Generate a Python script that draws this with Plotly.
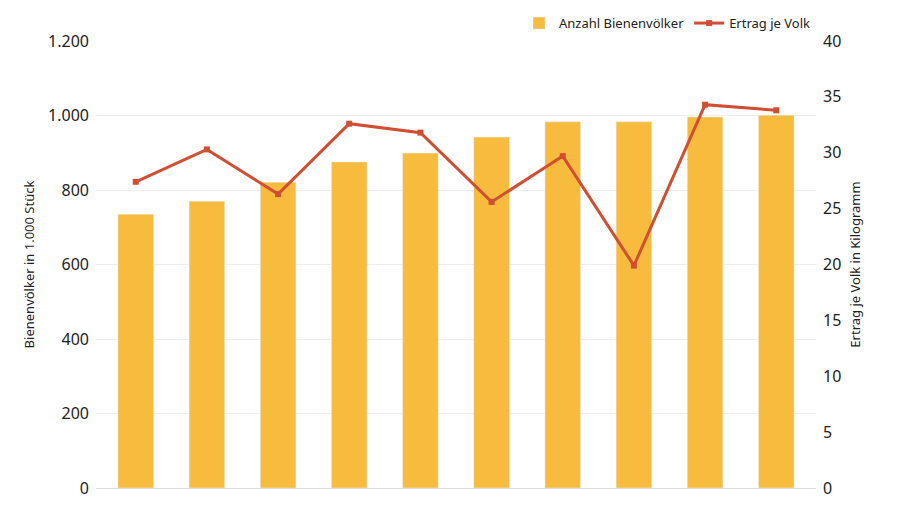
import plotly.graph_objects as go

# Daten
jahre = ["2014", "2015", "2016", "2017", "2018", "2019", "2020", "2021", "2022", "2023"]
voelker = [735, 770, 821, 875, 899, 942, 983, 983, 996, 1001]
ertrag = [27.4, 30.3, 26.3, 32.6, 31.8, 25.6, 29.7, 19.9, 34.3, 33.8]

fig = go.Figure()
fig.add_trace(go.Bar(x=jahre, y=voelker, name="Anzahl Bienenvölker",
                     marker_color="#F7BB3D", width=0.5))
fig.add_trace(go.Scatter(x=jahre, y=ertrag, name="Ertrag je Volk", yaxis="y2",
                         mode="lines+markers",
                         line=dict(color="#D04F33", width=3),
                         marker=dict(symbol="square", size=6, color="#D04F33")))

fig.update_layout(
    width=900, height=506,
    margin=dict(l=88, r=92, t=33, b=26, autoexpand=False),
    plot_bgcolor="white", paper_bgcolor="white",
    separators=",.",
    font=dict(family="Noto Sans", size=16, color="#222"),
    showlegend=True,
    legend=dict(orientation="h", x=1.0, xanchor="right", y=1.04, yanchor="middle",
                font=dict(size=13), bgcolor="rgba(0,0,0,0)"),
    xaxis=dict(showgrid=False, showline=True, linecolor="#ddd", ticks="",
               ticklabelstandoff=12),
    yaxis=dict(range=[0, 1200], dtick=200, tickformat=",d",
               gridcolor="#eee", zeroline=False, ticklabelstandoff=6,
               title=dict(text="Bienenvölker in 1.000 Stück", font=dict(size=13), standoff=10)),
    yaxis2=dict(range=[0, 40], dtick=5, overlaying="y", side="right",
                showgrid=False, zeroline=False, ticklabelstandoff=6,
                title=dict(text="Ertrag je Volk in Kilogramm", font=dict(size=13), standoff=10)),
)

fig.write_html("out.html")
